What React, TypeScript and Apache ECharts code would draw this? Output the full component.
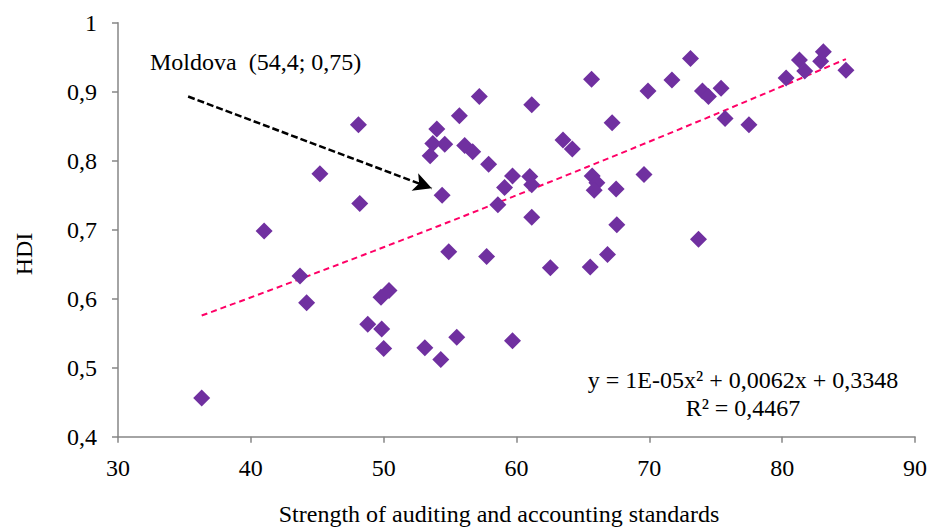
import React, { useEffect, useRef } from "react";
import * as echarts from "echarts";

// Strength of auditing and accounting standards (x) vs HDI (y)
const auditStrength = [
  36.3, 41.0, 43.7, 44.2, 45.2, 48.1, 48.2, 48.8, 49.85, 50.0,
  49.8, 50.4, 53.1, 54.3, 55.5, 54.9, 57.75, 59.7, 62.55, 65.55,
  66.85, 67.55, 73.7, 54.4, 58.6, 61.15, 59.1, 59.7, 61.0, 61.15,
  65.7, 66.05, 65.85, 67.5, 69.6, 57.9, 53.5, 53.7, 54.6, 54.0,
  56.1, 56.7, 63.5, 64.2, 55.7, 57.2, 61.15, 67.2, 65.65, 69.9,
  71.7, 73.1, 74.0, 74.45, 75.4, 75.7, 77.5, 80.3, 81.3, 81.7,
  82.9, 83.1, 84.8,
];
const hdi = [
  0.456, 0.698, 0.633, 0.594, 0.781, 0.852, 0.738, 0.563, 0.556, 0.528,
  0.602, 0.612, 0.529, 0.512, 0.544, 0.668, 0.661, 0.539, 0.645, 0.646,
  0.664, 0.707, 0.686, 0.750, 0.736, 0.718, 0.761, 0.778, 0.777, 0.765,
  0.778, 0.768, 0.757, 0.759, 0.780, 0.795, 0.807, 0.825, 0.824, 0.846,
  0.822, 0.813, 0.830, 0.817, 0.865, 0.893, 0.881, 0.855, 0.918, 0.901,
  0.917, 0.948, 0.901, 0.893, 0.905, 0.861, 0.852, 0.920, 0.946, 0.930,
  0.944, 0.958, 0.931,
];

const xTicks = { min: 30, max: 90, interval: 10 };
const yTicks = { min: 0.4, max: 1, interval: 0.1 };

const annotationText = "Moldova  (54,4; 0,75)";
const arrowStart = [35.28, 0.893];
const arrowEnd = [53.62, 0.76];
const equationLines = ["y = 1E-05x² + 0,0062x + 0,3348", "R² = 0,4467"];
const xTitle = "Strength of auditing and accounting standards";
const yTitle = "HDI";

// Least-squares polynomial (order 2) trendline, as the spreadsheet does
function quadFit(xs: number[], ys: number[]) {
  let s0 = 0, s1 = 0, s2 = 0, s3 = 0, s4 = 0, t0 = 0, t1 = 0, t2 = 0;
  for (let i = 0; i < xs.length; i++) {
    const x = xs[i], y = ys[i];
    s0 += 1; s1 += x; s2 += x * x; s3 += x * x * x; s4 += x * x * x * x;
    t0 += y; t1 += x * y; t2 += x * x * y;
  }
  const M = [
    [s0, s1, s2, t0],
    [s1, s2, s3, t1],
    [s2, s3, s4, t2],
  ];
  for (let c = 0; c < 3; c++) {
    let p = c;
    for (let r = c + 1; r < 3; r++) if (Math.abs(M[r][c]) > Math.abs(M[p][c])) p = r;
    [M[c], M[p]] = [M[p], M[c]];
    for (let r = 0; r < 3; r++) {
      if (r === c) continue;
      const f = M[r][c] / M[c][c];
      for (let k = c; k < 4; k++) M[r][k] -= f * M[c][k];
    }
  }
  return [M[0][3] / M[0][0], M[1][3] / M[1][1], M[2][3] / M[2][2]];
}

export default function App() {
  const ref = useRef<HTMLDivElement>(null);
  useEffect(() => {
    if (!ref.current) return;
    const chart = echarts.init(ref.current, null, { renderer: "svg" });
    const [a0, a1, a2] = quadFit(auditStrength, hdi);
    const xmin = Math.min(...auditStrength);
    const xmax = Math.max(...auditStrength);
    const trend: number[][] = [];
    const steps = 60;
    for (let i = 0; i <= steps; i++) {
      const x = xmin + ((xmax - xmin) * i) / steps;
      trend.push([x, a0 + a1 * x + a2 * x * x]);
    }
    const font = "Liberation Serif";
    const axisLine = { show: true, lineStyle: { color: "#868686", width: 1.5 } };
    chart.setOption({
      animation: false,
      grid: { left: 118, right: 18, top: 22.7, bottom: 91.3 },
      xAxis: {
        type: "value",
        min: xTicks.min,
        max: xTicks.max,
        interval: xTicks.interval,
        axisLine,
        axisTick: { show: true, length: 6, lineStyle: { color: "#868686", width: 1.5 } },
        splitLine: { show: false },
        axisLabel: { fontFamily: font, fontSize: 24, color: "#000", margin: 19 },
      },
      yAxis: {
        type: "value",
        min: yTicks.min,
        max: yTicks.max,
        interval: yTicks.interval,
        axisLine,
        axisTick: { show: true, length: 6, lineStyle: { color: "#868686", width: 1.5 } },
        splitLine: { show: false },
        axisLabel: {
          fontFamily: font,
          fontSize: 24,
          color: "#000",
          margin: 21,
          formatter: (v: number) =>
            Math.abs(v - 1) < 1e-9 ? "1" : v.toFixed(1).replace(".", ","),
        },
      },
      series: [
        {
          type: "line",
          data: trend,
          showSymbol: false,
          symbol: "none",
          smooth: false,
          lineStyle: { color: "#FF0066", width: 2, type: [6, 4] },
          silent: true,
          z: 1,
        },
        {
          type: "scatter",
          data: auditStrength.map((x, i) => [x, hdi[i]]),
          symbol: "diamond",
          symbolSize: 17,
          itemStyle: { color: "#7030A0", opacity: 1 },
          z: 3,
          markLine: {
            silent: true,
            symbol: ["none", "arrow"],
            symbolSize: [14, 18],
            label: { show: false },
            lineStyle: { color: "#000", width: 2.5, type: [7, 3] },
            data: [[{ coord: arrowStart }, { coord: arrowEnd }]],
          },
        },
      ],
      graphic: [
        {
          type: "text",
          x: 150,
          y: 62,
          style: {
            text: annotationText,
            fill: "#000",
            font: `24px "${font}"`,
            textAlign: "left",
            textVerticalAlign: "middle",
          },
        },
        {
          type: "text",
          x: 743,
          y: 380,
          style: {
            text: equationLines[0],
            fill: "#000",
            font: `24px "${font}"`,
            textAlign: "center",
            textVerticalAlign: "middle",
          },
        },
        {
          type: "text",
          x: 743,
          y: 408,
          style: {
            text: equationLines[1],
            fill: "#000",
            font: `24px "${font}"`,
            textAlign: "center",
            textVerticalAlign: "middle",
          },
        },
        {
          type: "text",
          x: 499,
          y: 514,
          style: {
            text: xTitle,
            fill: "#000",
            font: `24px "${font}"`,
            textAlign: "center",
            textVerticalAlign: "middle",
          },
        },
        {
          type: "text",
          x: 24,
          y: 254,
          rotation: Math.PI / 2,
          style: {
            text: yTitle,
            fill: "#000",
            font: `24px "${font}"`,
            textAlign: "center",
            textVerticalAlign: "middle",
          },
        },
      ],
    });
    return () => chart.dispose();
  }, []);
  return (
    <div
      ref={ref}
      style={{ position: "fixed", left: 0, top: 0, width: 933, height: 528, background: "#fff" }}
    />
  );
}
